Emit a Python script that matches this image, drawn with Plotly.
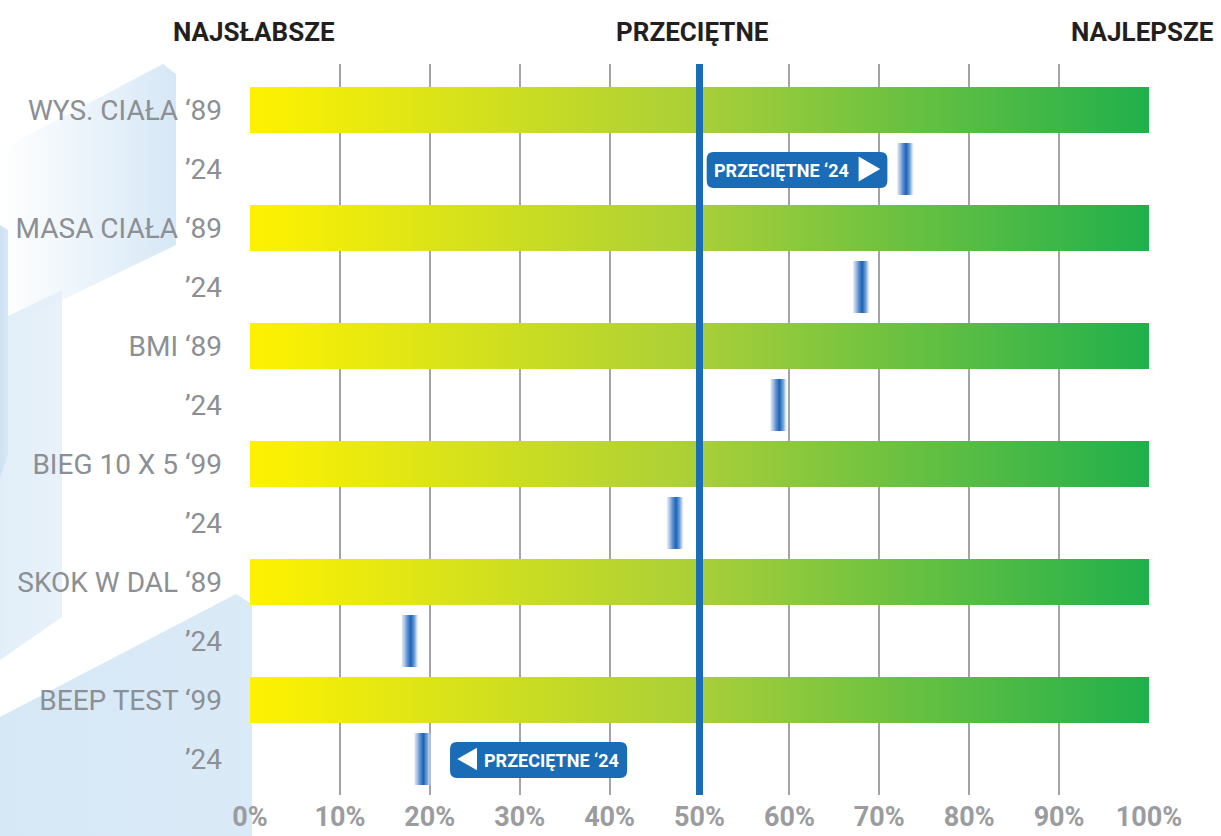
import plotly.graph_objects as go

W, H = 1221, 836

# ---------------- data ----------------
categories = ["WYS. CIAŁA", "MASA CIAŁA", "BMI", "BIEG 10 X 5", "SKOK W DAL", "BEEP TEST"]
base_years = ["‘89", "‘89", "‘89", "‘99", "‘89", "‘99"]
current_year = "’24"
base_start = [0, 0, 0, 0, 0, 0]
base_end = [100, 100, 100, 100, 100, 100]
current_values = [72.9, 68.0, 58.8, 47.3, 17.8, 19.2]
average_value = 50
x_tick_values = [0, 10, 20, 30, 40, 50, 60, 70, 80, 90, 100]
x_tick_labels = ["0%", "10%", "20%", "30%", "40%", "50%", "60%", "70%", "80%", "90%", "100%"]
scale_labels = ["NAJSŁABSZE", "PRZECIĘTNE", "NAJLEPSZE"]
scale_positions = [0.5, 49.2, 99.3]
callout_text = "PRZECIĘTNE ‘24"
callout_categories = [0, 5]
callout_directions = ["right", "left"]

# ---------------- layout constants ----------------
PX0, PX1 = 249.1, 1149.9          # plot area in pixels (x)
PY0, PY1 = 64, 795                # plot area in pixels (y)
ROW0, ROWSTEP = 110, 59
y_top = (PY0 - ROW0) / ROWSTEP
y_bot = (PY1 - ROW0) / ROWSTEP

FONT = "Roboto"
BAR_HALF = 0.39
MARK_HALF_H = 0.44
MARK_HALF_W = 0.9

row_labels = []
row_pos = []
for i, c in enumerate(categories):
    row_labels += [f"{c} {base_years[i]}", current_year]
    row_pos += [2 * i, 2 * i + 1]

fig = go.Figure()

# ---------- decorative background (full-figure pixel axes) ----------
deco = [
    ([0, 163, 176, 176, 0], [150, 64, 74, 245, 330],
     [[0, "rgba(216,233,247,0)"], [1, "rgba(214,231,246,1)"]]),
    ([0, 62, 62, 0], [320, 290, 617, 660],
     [[0, "rgba(218,234,247,0.8)"], [1, "rgba(226,238,249,0.8)"]]),
    ([0, 8, 8, 0], [225, 230, 455, 478],
     [[0, "rgba(206,226,244,1)"], [1, "rgba(214,231,246,1)"]]),
    ([0, 236, 252, 252, 0], [717, 594, 604, 836, 836],
     [[0, "rgba(214,231,246,1)"], [1, "rgba(218,234,247,1)"]]),
]
for xs, ys, cs in deco:
    fig.add_trace(go.Scatter(
        x=xs, y=ys, fill="toself", mode="lines", line=dict(width=0),
        fillgradient=dict(type="horizontal", colorscale=cs),
        xaxis="x", yaxis="y", hoverinfo="skip", showlegend=False))

# ---------- reference bars (gradient) ----------
bar_scale = [[0, "#fff200"], [0.5, "#a9cf38"], [1, "#20b04b"]]
for i in range(len(categories)):
    r = 2 * i
    x0, x1 = base_start[i], base_end[i]
    fig.add_trace(go.Scatter(
        x=[x0, x1, x1, x0, x0],
        y=[r - BAR_HALF, r - BAR_HALF, r + BAR_HALF, r + BAR_HALF, r - BAR_HALF],
        fill="toself", mode="lines", line=dict(width=0),
        fillgradient=dict(type="horizontal", colorscale=bar_scale),
        xaxis="x2", yaxis="y2", hoverinfo="skip", showlegend=False))

# ---------- current ('24) markers ----------
mark_scale = [[0, "rgba(190,208,238,0.55)"], [0.3, "#6d98d3"], [0.55, "#1565b8"],
              [0.8, "#7ea6db"], [1, "rgba(226,233,247,0.5)"]]
for i, v in enumerate(current_values):
    r = 2 * i + 1
    a, b = v - MARK_HALF_W, v + MARK_HALF_W
    fig.add_trace(go.Scatter(
        x=[a, b, b, a, a],
        y=[r - MARK_HALF_H, r - MARK_HALF_H, r + MARK_HALF_H, r + MARK_HALF_H, r - MARK_HALF_H],
        fill="toself", mode="lines", line=dict(width=0),
        fillgradient=dict(type="horizontal", colorscale=mark_scale),
        xaxis="x2", yaxis="y2", hoverinfo="skip", showlegend=False))

shapes = []
annotations = []

# average line
shapes.append(dict(type="line", xref="x2", yref="y2 domain", x0=average_value, x1=average_value,
                   y0=0, y1=1, line=dict(color="#1a6cb6", width=7), layer="above"))


def rrect(x0, x1, y0, y1, rx, ry):
    return (f"M {x0 + rx},{y0} L {x1 - rx},{y0} Q {x1},{y0} {x1},{y0 + ry} "
            f"L {x1},{y1 - ry} Q {x1},{y1} {x1 - rx},{y1} L {x0 + rx},{y1} "
            f"Q {x0},{y1} {x0},{y1 - ry} L {x0},{y0 + ry} Q {x0},{y0} {x0 + rx},{y0} Z")


BOX_BLUE = "#1b6cb6"
for ci, d in zip(callout_categories, callout_directions):
    v = current_values[ci]
    r = 2 * ci + 1
    if d == "right":
        bx1 = v - 2.0
        bx0 = bx1 - 20.1
        tri = f"M {bx1 - 3.2},{r - 0.21} L {bx1 - 0.8},{r} L {bx1 - 3.2},{r + 0.21} Z"
        tx = bx0 + 0.6
    else:
        bx0 = v + 3.05
        bx1 = bx0 + 19.7
        tri = f"M {bx0 + 0.8},{r} L {bx0 + 3.0},{r - 0.19} L {bx0 + 3.0},{r + 0.19} Z"
        tx = bx0 + 3.6
    shapes.append(dict(type="path", xref="x2", yref="y2",
                       path=rrect(bx0, bx1, r - 0.29, r + 0.32, 0.75, 0.12),
                       fillcolor=BOX_BLUE, line=dict(width=0), layer="above"))
    shapes.append(dict(type="path", xref="x2", yref="y2", path=tri,
                       fillcolor="white", line=dict(width=0), layer="above"))
    annotations.append(dict(x=tx, y=r + 0.02, xref="x2", yref="y2", text=callout_text,
                            showarrow=False, xanchor="left", yanchor="middle",
                            font=dict(family=FONT, size=18, color="white", weight=700)))

# scale header labels
for lab, pos in zip(scale_labels, scale_positions):
    annotations.append(dict(x=pos, y=1 - 32 / H, xref="x2", yref="paper", text=lab,
                            showarrow=False, xanchor="center", yanchor="middle",
                            font=dict(family=FONT, size=26, color="#231f20", weight=700)))

fig.update_layout(
    template="none",
    width=W, height=H,
    margin=dict(l=0, r=0, t=0, b=0, pad=0),
    paper_bgcolor="white",
    plot_bgcolor="rgba(0,0,0,0)",
    showlegend=False,
    hovermode=False,
    xaxis=dict(domain=[0, 1], range=[0, W], visible=False, fixedrange=True),
    yaxis=dict(domain=[0, 1], range=[H, 0], visible=False, fixedrange=True),
    xaxis2=dict(domain=[PX0 / W, PX1 / W], range=[-0.1, 100.1], anchor="y2",
                tickmode="array", tickvals=x_tick_values, ticktext=x_tick_labels,
                showgrid=True, gridcolor="#a4a4a8", gridwidth=2, zeroline=False,
                showline=False, ticks="", ticklabelstandoff=3, automargin=False,
                tickfont=dict(family=FONT, size=27, color="#9b9ca0", weight=700)),
    yaxis2=dict(domain=[1 - PY1 / H, 1 - PY0 / H], range=[y_bot, y_top], anchor="x2",
                tickmode="array", tickvals=row_pos, ticktext=row_labels,
                showgrid=False, zeroline=False, showline=False, ticks="",
                ticklabelstandoff=26, automargin=False,
                tickfont=dict(family=FONT, size=28, color="#8c8f93")),
    shapes=shapes,
    annotations=annotations,
)

fig.write_html("out.html")
